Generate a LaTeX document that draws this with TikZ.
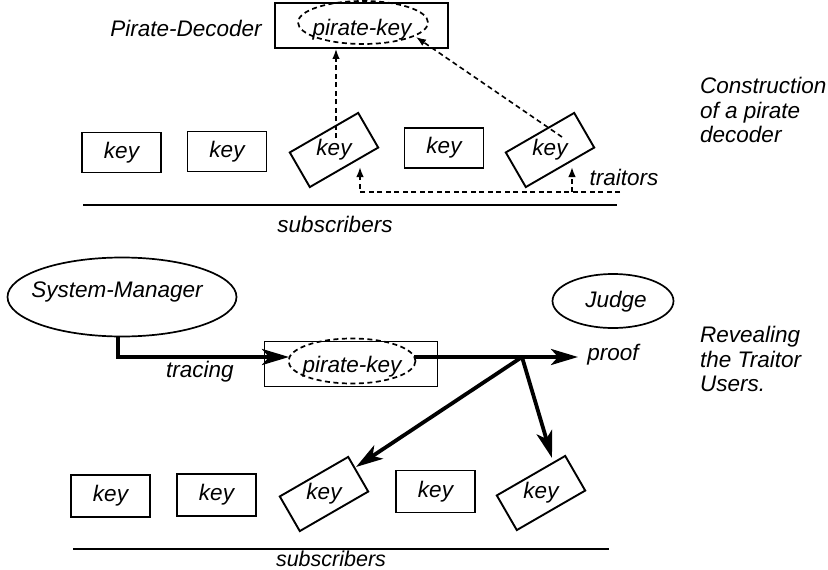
\documentclass[tikz,border=0pt]{standalone}
\usepackage{fontspec}
\setmainfont{Liberation Sans}
\usetikzlibrary{shapes.geometric,arrows.meta,calc}
\begin{document}
\begin{tikzpicture}[x=1pt,y=-1pt,
  every node/.style={font=\fontsize{22.5}{24.5}\selectfont\itshape},
  keybox/.style={draw,line width=1.9pt,minimum width=79pt,minimum height=40pt,inner sep=0pt},
  pbox/.style={draw,line width=1.9pt,minimum width=173pt,minimum height=45pt,inner sep=0pt},
  ell/.style={draw,ellipse,line width=1.7pt,inner sep=0pt},
  dell/.style={ell,dash pattern=on 5pt off 3.5pt},
  thinarr/.style={line width=1.6pt,dash pattern=on 5pt off 3.5pt,-{Latex[length=10pt,width=7.5pt]}},
  thickarr/.style={line width=3.8pt,-{Stealth[length=27pt,width=16pt,inset=7pt]}},
  lbl/.style={inner sep=0pt}
]
\useasboundingbox (0,0) rectangle (828,570);

% ---------- top: construction of a pirate decoder ----------
\node[lbl] (pdlabel) at (186,28) {Pirate-Decoder};
\node[pbox] (pdbox) at (361.5,25.5) {};
\node[dell,minimum width=130pt,minimum height=43pt] (pke1) at (363,22.5) {};
\node[lbl] (pk1) at (362,30) {pirate-key};

\node[keybox] (t1) at (121.5,152.5) {};
\node[lbl] (t1l) at (t1) {key};
\node[keybox] (t2) at (227,151.5) {};
\node[lbl] (t2l) at (t2) {key};
\node[keybox,rotate=30] (t3) at (334,150) {};
\node[lbl] (t3l) at (334,150) {key};
\node[keybox] (t4) at (444,148) {};
\node[lbl] (t4l) at (t4) {key};
\node[keybox,rotate=30] (t5) at (550,150) {};
\node[lbl] (t5l) at (550,150) {key};

\coordinate (a1s) at (336,138);
\draw[thinarr] (a1s) -- (a1s |- pdbox.south);
\coordinate (a2s) at (562,137);
\coordinate (a2e) at (416,37);
\draw[thinarr] (a2s) -- (a2e);
\coordinate (tr) at (620,192);
\coordinate (trb) at (572,192);
\draw[thinarr] (tr) -- (360,192) -- (360,167);
\draw[thinarr] (trb) -- (572,167);
\node[lbl] (traitors) at (624,177) {traitors};

\coordinate (l1a) at (83,205);
\coordinate (l1b) at (617,205);
\draw[line width=1.9pt] (l1a) -- (l1b);
\node[lbl] (sub1) at (335,224) {subscribers};

\node[lbl,anchor=west,align=left] (constr) at (700,110) {Construction\\of a pirate\\decoder};

% ---------- bottom: revealing the traitor users ----------
\node[ell,minimum width=229pt,minimum height=79pt] (sm) at (122,297) {};
\node[lbl] (sml) at (117,292) {System-Manager};
\node[ell,minimum width=121pt,minimum height=54pt] (judge) at (613,301) {};
\node[lbl] (judgel) at (616,302) {Judge};

\node[pbox] (pdbox2) at (351,364) {};
\node[dell,minimum width=127pt,minimum height=45pt] (pke2) at (352,361) {};
\node[lbl] (pk2) at (352,367) {pirate-key};

\coordinate (smout) at (118,336);
\coordinate (tin) at (289,357);
\draw[thickarr] (smout) -- (118,357) -- (tin);
\node[lbl] (tracing) at (200,372) {tracing};

\coordinate (pkout) at (414,357);
\coordinate (jn) at (522,357);
\coordinate (pftip) at (578,357);
\coordinate (k3tip) at (356,467);
\coordinate (k5tip) at (552,458);
\draw[thickarr] (pkout) -- (pftip);
\draw[thickarr] (jn) -- (k3tip);
\draw[thickarr] (jn) -- (k5tip);
\node[lbl] (proof) at (613,355) {proof};

\node[keybox,minimum height=42pt] (b1) at (110.5,496) {};
\node[lbl] (b1l) at (b1) {key};
\node[keybox,minimum height=42pt] (b2) at (216.5,495) {};
\node[lbl] (b2l) at (b2) {key};
\node[keybox,rotate=30] (b3) at (324,494) {};
\node[lbl] (b3l) at (324,494) {key};
\node[keybox,minimum height=42pt] (b4) at (435.5,491.5) {};
\node[lbl] (b4l) at (b4) {key};
\node[keybox,rotate=30] (b5) at (541,493) {};
\node[lbl] (b5l) at (541,493) {key};

\coordinate (l2a) at (73,549);
\coordinate (l2b) at (609,549);
\draw[line width=1.9pt] (l2a) -- (l2b);
\node[lbl,font=\fontsize{21.5}{24}\selectfont\itshape] (sub2) at (331,559) {subscribers};

\node[lbl,anchor=west,align=left] (reveal) at (700,359) {Revealing\\the Traitor\\Users.};
\end{tikzpicture}
\end{document}
